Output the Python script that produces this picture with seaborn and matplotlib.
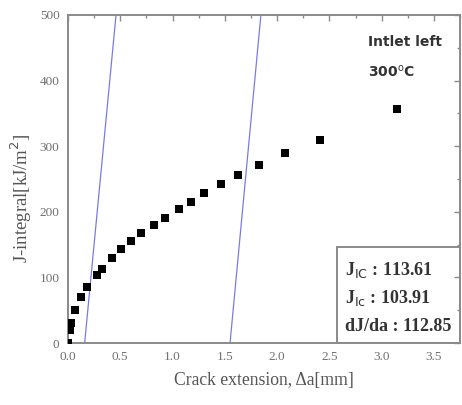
import matplotlib
matplotlib.use("Agg")
import matplotlib.pyplot as plt
from matplotlib.patches import Rectangle
from matplotlib.ticker import MultipleLocator
import seaborn as sns
import pandas as pd

# J-R curve measurements
crack_ext = [0.0, 0.02, 0.03, 0.065, 0.125, 0.18, 0.275, 0.325, 0.425, 0.51,
             0.605, 0.70, 0.825, 0.93, 1.06, 1.175, 1.30, 1.46, 1.63, 1.83,
             2.08, 2.41, 3.15]
j_integral = [0, 20, 31, 50, 70, 85, 103, 113, 130, 143,
              155, 167, 180, 191, 204, 215, 228, 242, 256, 271,
              289, 309, 357]

# Exclusion (offset blunting) lines, endpoints in data units
excl_left_da = [0.16, 0.46]
excl_right_da = [1.55, 1.845]
excl_J = [0, 500]

x_ticks = [0.0, 0.5, 1.0, 1.5, 2.0, 2.5, 3.0, 3.5]
y_ticks = [0, 100, 200, 300, 400, 500]

results = ["J$_{\\mathrm{IC}}$ : 113.61", "J$_{\\mathrm{Ic}}$ : 103.91",
           "dJ/da : 112.85"]

sns.set_style("white")
plt.rcParams["font.family"] = ["Liberation Serif", "DejaVu Serif"]

fig = plt.figure(figsize=(4.62, 4.05), dpi=100)
ax = fig.add_axes([0.147, 0.153, 0.849, 0.810])

df = pd.DataFrame({"da": crack_ext, "J": j_integral})
sns.scatterplot(data=df, x="da", y="J", marker="s", s=34, color="black",
                edgecolor="black", linewidth=0, ax=ax, zorder=3)

for xs in (excl_left_da, excl_right_da):
    sns.lineplot(x=xs, y=excl_J, color="#7a7ae6", linewidth=0.9, ax=ax,
                 estimator=None, sort=False)

ax.set_xlim(0, 3.75)
ax.set_ylim(0, 500)
ax.set_xticks(x_ticks)
ax.set_xticklabels([f"{v:.1f}" for v in x_ticks])
ax.set_yticks(y_ticks)
ax.set_yticklabels([str(v) for v in y_ticks])
ax.xaxis.set_minor_locator(MultipleLocator(0.25))
ax.yaxis.set_minor_locator(MultipleLocator(50))

for sp in ax.spines.values():
    sp.set_visible(True)
    sp.set_color("#8a8a8a")
    sp.set_linewidth(1.4)

ax.tick_params(which="both", direction="in", top=True, right=True,
               color="#8a8a8a", width=1.0)
ax.tick_params(which="major", length=4, labelsize=9.5, labelcolor="#707070",
               pad=6)
ax.tick_params(which="minor", length=2.5)

ax.set_xlabel("Crack extension, \u0394a[mm]", fontsize=12.7, color="#555555",
              labelpad=6)
ax.set_ylabel("")
fig.text(0.045, 0.51, "J-integral[kJ/m$^2$]", rotation=90, fontsize=13.5,
         color="#555555", ha="center", va="center")

ax.text(2.87, 459, "Intlet left", fontsize=10, fontweight="bold",
        family=["DejaVu Sans"], color="#333333", va="center")
ax.text(2.87, 413, "300$^{\\mathrm{o}}$C", fontsize=10, fontweight="bold",
        family=["DejaVu Sans"], color="#333333", va="center")

ax.add_patch(Rectangle((2.575, 0), 1.175, 146, fill=False,
                       edgecolor="#8a8a8a", linewidth=1.4, zorder=4))
for yv, txt in zip([111, 69, 25], results):
    ax.text(2.65, yv, txt, fontsize=13, fontweight="bold", color="#333333",
            va="center")

fig.savefig("out.png", dpi=100)
